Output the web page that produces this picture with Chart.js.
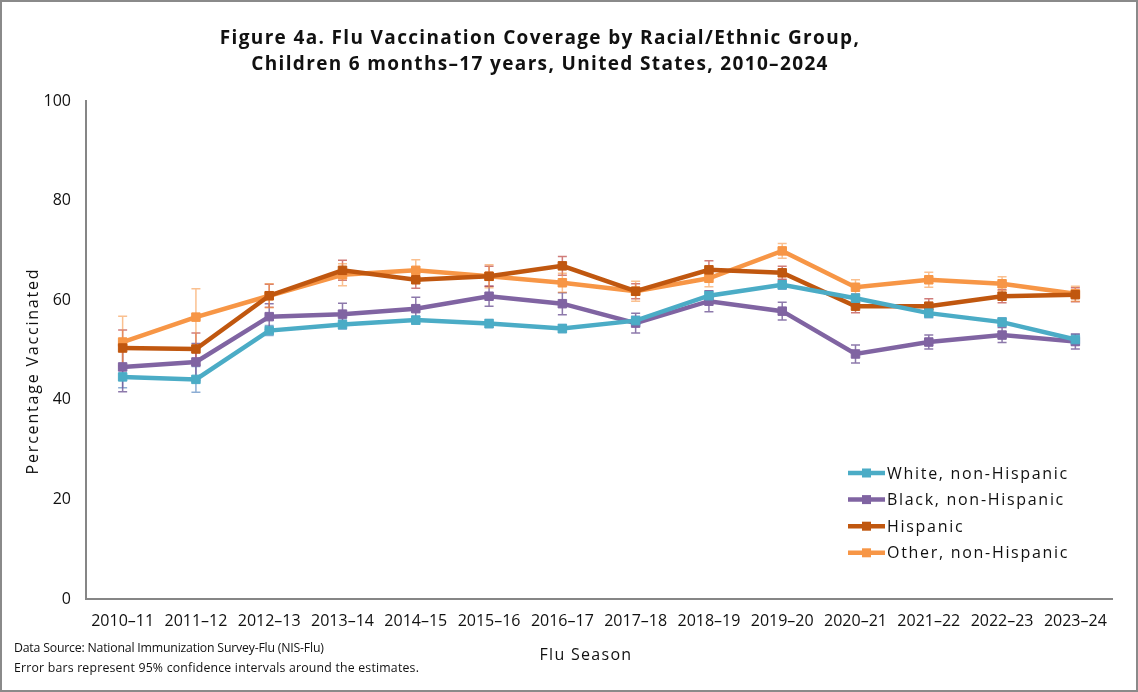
<!DOCTYPE html>
<html>
<head>
<meta charset="utf-8">
<script src="https://cdn.jsdelivr.net/npm/chart.js@4.4.1/dist/chart.umd.min.js"></script>
<style>
  html, body { margin: 0; padding: 0; background: #fff; }
  #page { position: relative; width: 1138px; height: 692px; overflow: hidden; font-family: "Open Sans", sans-serif; color: #111; }
  #frame { position: absolute; left: 0; top: 0; width: 1138px; height: 692px; box-sizing: border-box; border: 2px solid #8a8a8a; pointer-events: none; z-index: 3; }
  #chartBox { position: absolute; left: 0; top: 0; width: 1138px; height: 692px; }
  #title { position: absolute; left: 0; top: 24px; width: 1080px; text-align: center; font-weight: bold; font-size: 19px; line-height: 26px; letter-spacing: 1.35px; color: #111; }
  #ytitle { position: absolute; left: -98px; top: 360px; width: 260px; height: 22px; line-height: 22px; text-align: center; font-size: 16px; letter-spacing: 1.8px; transform: rotate(-90deg); transform-origin: 50% 50%; }
  #xtitle { position: absolute; left: 486px; top: 643px; width: 200px; height: 22px; line-height: 22px; text-align: center; font-size: 16px; letter-spacing: 1.3px; }
  #foot { position: absolute; left: 14px; top: 638px; font-size: 12.3px; line-height: 20px; }
  #foot .l1 { letter-spacing: -0.2px; }
  #foot .l2 { letter-spacing: 0.2px; }
</style>
</head>
<body>
<div id="page">
  <div id="chartBox"><canvas id="c"></canvas></div>
  <div id="title">Figure 4a. Flu Vaccination Coverage by Racial/Ethnic Group,<br>Children 6 months–17 years, United States, 2010–2024</div>
  <div id="ytitle">Percentage Vaccinated</div>
  <div id="xtitle">Flu Season</div>
  <div id="foot"><span class="l1">Data Source: National Immunization Survey-Flu (NIS-Flu)</span><br><span class="l2">Error bars represent 95% confidence intervals around the estimates.</span></div>
  <div id="frame"></div>
</div>
<script>
const seasons = ["2010–11","2011–12","2012–13","2013–14","2014–15","2015–16","2016–17","2017–18","2018–19","2019–20","2020–21","2021–22","2022–23","2023–24"];

const white    = [44.6, 44.1, 53.9, 55.1, 56.0, 55.3, 54.3, 55.9, 60.9, 63.1, 60.4, 57.4, 55.6, 52.1];
const whiteCI  = [2.2, 2.6, 1.0, 0.9, 0.8, 0.8, 0.8, 0.9, 0.9, 0.9, 0.9, 0.9, 0.9, 1.0];
const black    = [46.6, 47.6, 56.7, 57.2, 58.3, 60.8, 59.3, 55.4, 59.8, 57.8, 49.2, 51.6, 53.0, 51.7];
const blackCI  = [5.0, 3.7, 2.6, 2.2, 2.3, 2.0, 2.2, 2.0, 2.1, 1.8, 1.8, 1.4, 1.5, 1.5];
const hispanic = [50.4, 50.2, 60.9, 66.0, 64.1, 64.8, 66.9, 61.8, 66.1, 65.5, 58.8, 58.8, 60.8, 61.1];
const hispanicCI = [3.6, 3.2, 2.3, 2.0, 1.7, 2.0, 1.9, 1.5, 1.8, 1.3, 1.3, 1.5, 1.3, 1.4];
const other    = [51.6, 56.6, 60.9, 65.1, 66.0, 64.8, 63.5, 61.8, 64.4, 69.9, 62.6, 64.1, 63.3, 61.3];
const otherCI  = [5.2, 5.7, 2.4, 2.2, 2.1, 2.3, 1.9, 2.0, 1.7, 1.5, 1.5, 1.5, 1.4, 1.5];

const yTicks = [0, 20, 40, 60, 80, 100];

const seriesDefs = [
  { label: "White, non-Hispanic", data: white, ci: whiteCI, color: "#4BACC6", errColor: "rgba(79,129,189,0.65)" },
  { label: "Black, non-Hispanic", data: black, ci: blackCI, color: "#8064A2", errColor: "rgba(112,88,150,0.8)" },
  { label: "Hispanic", data: hispanic, ci: hispanicCI, color: "#C0570F", errColor: "rgba(192,80,77,0.75)" },
  { label: "Other, non-Hispanic", data: other, ci: otherCI, color: "#F79646", errColor: "rgba(247,150,70,0.6)" }
];

const errorBarPlugin = {
  id: "errorBars",
  beforeDatasetsDraw(chart) {
    const ctx = chart.ctx;
    const ys = chart.scales.y;
    chart.data.datasets.forEach((ds, i) => {
      const meta = chart.getDatasetMeta(i);
      ctx.save();
      ctx.strokeStyle = ds.errColor;
      ctx.lineWidth = 1.5;
      meta.data.forEach((pt, j) => {
        const v = ds.data[j], e = ds.ci[j];
        const yT = ys.getPixelForValue(v + e);
        const yB = ys.getPixelForValue(v - e);
        const x = pt.x;
        ctx.beginPath();
        ctx.moveTo(x, yT); ctx.lineTo(x, yB);
        ctx.moveTo(x - 4.5, yT); ctx.lineTo(x + 4.5, yT);
        ctx.moveTo(x - 4.5, yB); ctx.lineTo(x + 4.5, yB);
        ctx.stroke();
      });
      ctx.restore();
    });
  }
};

const legendPlugin = {
  id: "insideLegend",
  afterDraw(chart) {
    const ctx = chart.ctx;
    const a = chart.chartArea;
    const x0 = a.right - 264;
    const y0 = a.top + 372;
    const step = 26.6;
    ctx.save();
    ctx.font = '16px "Open Sans"';
    ctx.letterSpacing = "1.7px";
    ctx.textBaseline = "middle";
    ctx.textAlign = "left";
    chart.data.datasets.forEach((ds, i) => {
      const y = y0 + i * step;
      ctx.strokeStyle = ds.borderColor;
      ctx.lineWidth = 4.5;
      ctx.beginPath(); ctx.moveTo(x0, y); ctx.lineTo(x0 + 37, y); ctx.stroke();
      ctx.fillStyle = ds.borderColor;
      ctx.fillRect(x0 + 18.5 - 4.5, y - 4.5, 9, 9);
      ctx.fillStyle = "#111";
      ctx.fillText(ds.label, x0 + 39, y + 1);
    });
    ctx.restore();
  }
};

new Chart(document.getElementById("c"), {
  type: "line",
  data: {
    labels: seasons,
    datasets: seriesDefs.map(s => ({
      label: s.label,
      data: s.data,
      ci: s.ci,
      errColor: s.errColor,
      borderColor: s.color,
      backgroundColor: s.color,
      pointBackgroundColor: s.color,
      pointBorderColor: s.color,
      borderWidth: 4.5,
      pointStyle: "rect",
      pointRadius: 6,
      pointBorderWidth: 1,
      tension: 0,
      fill: false
    }))
  },
  options: {
    responsive: true,
    maintainAspectRatio: false,
    animation: false,
    layout: { padding: { left: 0, top: 101, right: 26, bottom: 0 } },
    plugins: { legend: { display: false }, title: { display: false }, tooltip: { enabled: false } },
    scales: {
      x: {
        offset: true,
        grid: { display: false, drawTicks: false },
        border: { display: true, color: "#868686", width: 2 },
        ticks: { color: "#111", font: { family: "Open Sans", size: 16 }, padding: 13, maxRotation: 0, autoSkip: false },
        afterFit: s => { s.height = 93; }
      },
      y: {
        min: 0, max: 100,
        afterBuildTicks: s => { s.ticks = yTicks.map(v => ({ value: v })); },
        grid: { display: false, drawTicks: false },
        border: { display: true, color: "#868686", width: 2 },
        ticks: { color: "#111", font: { family: "Open Sans", size: 16 }, padding: 15 },
        afterFit: s => { s.width = 86; }
      }
    }
  },
  plugins: [errorBarPlugin, legendPlugin]
});
</script>
</body>
</html>
